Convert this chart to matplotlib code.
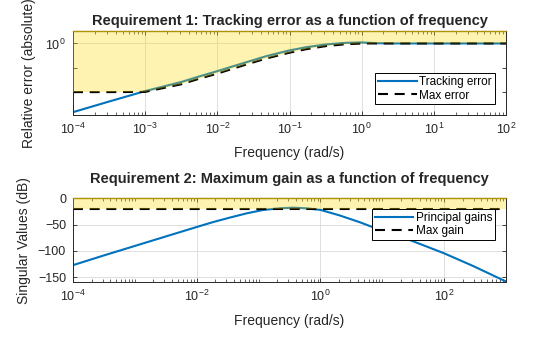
import numpy as np
import matplotlib
matplotlib.use("Agg")
import matplotlib.pyplot as plt
from matplotlib.ticker import LogLocator, FixedLocator, NullFormatter, LogFormatterSciNotation

plt.rcParams['font.family'] = ['Liberation Sans', 'DejaVu Sans']
plt.rcParams['mathtext.fontset'] = 'custom'
plt.rcParams['mathtext.rm'] = 'Liberation Sans'

# ---- Requirement 1 data ----
freq1 = [1e-4, 3.16e-4, 1e-3, 3.16e-3, 5.7e-3, 9.9e-3, 1.65e-2, 2.8e-2, 4.77e-2,
         9.8e-2, 0.171, 0.323, 0.61, 1.0, 1.58, 3.0, 10.0, 100.0]
track_err = [0.0015, 0.0041, 0.011, 0.026, 0.0446, 0.072, 0.115, 0.186, 0.30,
             0.51, 0.70, 0.91, 1.06, 1.10, 1.02, 1.0, 1.0, 1.0]
max_err = [0.01, 0.01, 0.0102, 0.021, 0.036, 0.057, 0.092, 0.15, 0.24,
           0.41, 0.58, 0.78, 0.93, 0.99, 1.0, 1.0, 1.0, 1.0]

# ---- Requirement 2 data ----
freq2_log = [-4.0, -3.5, -3.0, -2.5, -2.0, -1.73, -1.46, -1.19, -0.92, -0.65,
             -0.44, -0.23, 0.0, 0.31, 0.64, 0.85, 1.44, 2.0, 2.47, 2.98, 3.0]
gain_db = [-127, -108.5, -90.5, -72.5, -54.5, -45, -36.5, -28.5, -22, -19,
           -17.8, -19, -22, -32.5, -45.6, -55, -79, -104.5, -128.7, -157, -158]
freq2 = [10 ** v for v in freq2_log]
max_gain_db = [-20] * len(freq2)

blue = '#0072BD'
fill_col = (1.0, 0.85, 0.0)
edge_col = '#8c7800'
dash = (0, (4.8, 3.2))

fig = plt.figure(figsize=(5.6, 3.37), dpi=100)
ax1 = fig.add_axes([73 / 560, (337 - 114.5) / 337, 433 / 560, 83.5 / 337])
ax2 = fig.add_axes([73 / 560, (337 - 282) / 337, 433 / 560, 83.7 / 337])

def style(ax):
    ax.tick_params(which='both', direction='in', top=True, right=True,
                   labelsize=9, colors='#262626', labelcolor='#262626', pad=5)
    ax.tick_params(which='major', length=3, width=0.6)
    ax.tick_params(which='minor', length=2, width=0.5)
    for s in ('left', 'right', 'bottom'):
        ax.spines[s].set_color('#262626')
        ax.spines[s].set_linewidth(0.7)
    ax.spines['top'].set_color(edge_col)
    ax.spines['top'].set_linewidth(1.0)
    ax.grid(True, which='major', color='#dedede', linewidth=0.7, zorder=0)
    ax.set_axisbelow(True)

# ---- Top ----
ax1.set_xscale('log')
ax1.set_yscale('log')
ax1.set_xlim(1e-4, 1e2)
ax1.set_ylim(10 ** -2.92, 10 ** 0.51)
ax1.plot(freq1, track_err, color=blue, lw=1.5, label='Tracking error', zorder=2)
ax1.plot(freq1, max_err, color='k', lw=1.5, linestyle=dash, label='Max error', zorder=2)
ax1.fill_between(freq1, max_err, ax1.get_ylim()[1], facecolor=fill_col, alpha=0.3,
                 edgecolor='none', zorder=3)
ax1.xaxis.set_major_locator(LogLocator(base=10, numticks=20))
ax1.xaxis.set_minor_locator(LogLocator(base=10, subs=np.arange(2, 10), numticks=100))
ax1.xaxis.set_minor_formatter(NullFormatter())
ax1.yaxis.set_major_locator(FixedLocator([1.0]))
ax1.yaxis.set_major_formatter(LogFormatterSciNotation())
ax1.yaxis.set_minor_locator(FixedLocator([0.01, 0.1]))
ax1.yaxis.set_minor_formatter(NullFormatter())
style(ax1)
ax1.tick_params(axis='y', which='minor', length=3, width=0.6)
ax1.set_title('Requirement 1: Tracking error as a function of frequency',
              fontsize=10.5, fontweight='bold', color='#262626', pad=4)
ax1.set_xlabel('Frequency (rad/s)', fontsize=10, color='#262626', labelpad=7)
ax1.set_ylabel('Relative error (absolute)', fontsize=10, color='#262626', labelpad=7)
leg1 = ax1.legend(loc='lower right', bbox_to_anchor=(0.9746, 0.12), fontsize=8.5,
                  frameon=True, fancybox=False, edgecolor='k', framealpha=1,
                  handlelength=3.3, borderpad=0.25, labelspacing=0.1, handletextpad=0.2,
                  borderaxespad=0)
leg1.get_frame().set_linewidth(0.7)

# ---- Bottom ----
ax2.set_xscale('log')
ax2.set_xlim(1e-4, 1e3)
ax2.set_ylim(-159, 0)
ax2.plot(freq2, gain_db, color=blue, lw=1.5, label='Principal gains', zorder=2)
ax2.plot(freq2, max_gain_db, color='k', lw=1.5, linestyle=dash, label='Max gain', zorder=2)
ax2.fill_between(freq2, max_gain_db, ax2.get_ylim()[1], facecolor=fill_col, alpha=0.3,
                 edgecolor='none', zorder=3)
ax2.xaxis.set_major_locator(FixedLocator([1e-4, 1e-2, 1e0, 1e2]))
ax2.xaxis.set_major_formatter(LogFormatterSciNotation())
ax2.xaxis.set_minor_locator(LogLocator(base=10, subs=np.arange(1, 10), numticks=100))
ax2.xaxis.set_minor_formatter(NullFormatter())
ax2.set_yticks([-150, -100, -50, 0])
style(ax2)
ax2.set_title('Requirement 2: Maximum gain as a function of frequency',
              fontsize=10.5, fontweight='bold', color='#262626', pad=11)
ax2.set_xlabel('Frequency (rad/s)', fontsize=10, color='#262626', labelpad=7)
ax2.set_ylabel('Singular Values (dB)', fontsize=10, color='#262626', labelpad=5)
leg2 = ax2.legend(loc='upper right', bbox_to_anchor=(0.9753, 0.8686), fontsize=8.5,
                  frameon=True, fancybox=False, edgecolor='k', framealpha=1,
                  handlelength=3.3, borderpad=0.25, labelspacing=0.1, handletextpad=0.2,
                  borderaxespad=0)
leg2.get_frame().set_linewidth(0.7)

fig.savefig('out.png', dpi=100)
